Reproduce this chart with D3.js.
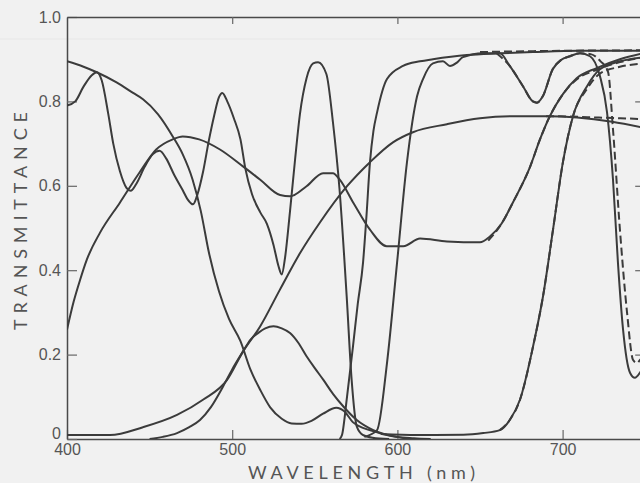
<!DOCTYPE html>
<html><head><meta charset="utf-8">
<script src="https://cdn.jsdelivr.net/npm/d3@7"></script>
<style>html,body{margin:0;padding:0;background:#f1f1f1;} svg{display:block;}</style>
</head><body>
<script>
// ---- data (wavelength nm, transmittance) ----
const wavelengthTicks = [400, 500, 600, 700];
const transmittanceTicks = [0, 0.2, 0.4, 0.6, 0.8, 1.0];
const transmittanceLabels = ["0", "0.2", "0.4", "0.6", "0.8", "1.0"];
const xTitle = "WAVELENGTH (nm)";
const yTitle = "TRANSMITTANCE";

const curveA = [[400,0.895],[410,0.882],[418,0.869],[430,0.845],[440,0.82],[446,0.805],[455,0.77],[464,0.717],[470,0.675],[476,0.615],[481,0.54],[486,0.44],[492,0.35],[498,0.285],[505,0.232],[511,0.165],[517,0.116],[523,0.075],[530,0.048],[536,0.037],[542,0.036],[548,0.043],[555,0.06],[563,0.074],[568,0.065],[573,0.04],[580,0.025],[586,0.018],[593,0.01],[600,0.005],[610,0.002],[620,0]];
const curveB = [[400,0.79],[405,0.80],[410,0.835],[415,0.862],[418,0.869],[421,0.85],[425,0.77],[428,0.70],[432,0.635],[436,0.595],[438.5,0.588],[442,0.605],[447,0.645],[452,0.675],[456,0.683],[460,0.665],[465,0.625],[470,0.59],[473,0.568],[476.3,0.556],[479,0.58],[482.3,0.632],[486,0.71],[489,0.765],[492,0.81],[494,0.82],[497,0.80],[501,0.76],[505,0.71],[508,0.64],[512,0.58],[517,0.537],[521,0.51],[525,0.46],[528,0.41],[530,0.39],[532,0.43],[535,0.54],[538,0.66],[541,0.77],[545,0.855],[549,0.89],[552,0.893],[557,0.865],[561,0.75],[565,0.59],[569.3,0.338],[572.3,0.14],[575.4,0.03],[579,0.01],[585,0.003],[595,0]];
const curveC = [[565,0],[566.5,0.01],[569.5,0.10],[573.1,0.219],[576,0.32],[579.2,0.418],[581.3,0.53],[583.4,0.656],[585.5,0.73],[587.7,0.774],[593.7,0.853],[603.4,0.884],[613.7,0.895],[621.5,0.90],[642,0.91],[662,0.914],[682,0.917],[710,0.92],[750,0.92]];
const curveD = [[580,0.005],[587.7,0.021],[593.7,0.18],[599.8,0.418],[605.8,0.656],[611.9,0.812],[615.5,0.853],[621.5,0.89],[627.6,0.895],[631.8,0.884],[636,0.892],[639.7,0.905],[651.8,0.914],[662,0.914],[668,0.884],[676,0.836],[682,0.80],[684.5,0.797],[688,0.812],[694,0.876],[699,0.898],[704.5,0.907],[710.5,0.914],[716.6,0.907],[722.6,0.86],[726.9,0.774],[730.5,0.615],[733.5,0.418],[736.6,0.259],[740.8,0.157],[743.8,0.145],[746.8,0.157],[750,0.18]];
const curveE = [[450,0],[458,0.005],[466.6,0.014],[474,0.028],[480.5,0.045],[487,0.075],[494.4,0.124],[500,0.165],[506.5,0.207],[511,0.235],[516,0.252],[520,0.262],[525,0.267],[530,0.262],[535,0.251],[540,0.228],[545,0.196],[550,0.168],[555.2,0.14],[561,0.107],[567.3,0.077],[575.4,0.045],[585.4,0.021],[599.6,0.005],[610,0],[620,0]];
const curveF = [[400,0.0095],[426,0.0095],[446,0.028],[466.6,0.057],[482.3,0.093],[496.9,0.14],[506.5,0.207],[516.8,0.266],[528.9,0.354],[541,0.44],[553.1,0.513],[569.5,0.599],[583.4,0.656],[597.3,0.703],[609.4,0.727],[630,0.746],[650,0.76],[670,0.765],[690.6,0.765],[708.7,0.762],[730,0.752],[750,0.737]];
const curveG = [[400,0.259],[404,0.325],[408,0.378],[412,0.425],[420,0.489],[432,0.56],[444,0.632],[454,0.686],[464,0.71],[470,0.717],[480,0.71],[492.6,0.686],[506.5,0.646],[516.8,0.615],[529,0.578],[535,0.575],[545,0.599],[555,0.63],[561,0.63],[565,0.615],[573.3,0.56],[583.4,0.496],[593.5,0.457],[603.6,0.457],[613.7,0.475],[630,0.468],[650,0.466],[656,0.48],[663,0.51],[670,0.561],[680.3,0.645],[686.3,0.71],[692.4,0.766],[700.3,0.818],[708.5,0.855],[720.6,0.879],[734.7,0.90],[750,0.915]];
const curveI = [[590,0.012],[612,0.0095],[640,0.01],[652,0.014],[662,0.021],[668,0.045],[674.2,0.093],[682.1,0.219],[688.1,0.337],[694.2,0.496],[700.2,0.656],[706.3,0.765],[714.8,0.836],[722.6,0.876],[734.7,0.895],[750,0.905]];

const dashC = [[650,0.917],[700,0.92],[750,0.921]];
const dashD = [[660,0.914],[668,0.884],[676,0.836],[682,0.80],[684.5,0.797],[688,0.812],[694,0.876],[699,0.898],[704.5,0.907],[710.5,0.914],[717,0.912],[723,0.895],[727.5,0.87],[730.5,0.734],[734.7,0.496],[739,0.30],[742.6,0.188],[745,0.18],[747,0.188],[750,0.2]];
const dashF = [[690,0.765],[705,0.764],[720,0.762],[735,0.76],[750,0.758]];
const dashG = [[655,0.47],[663,0.51],[670,0.561],[680.3,0.645],[686.3,0.71],[692.4,0.766],[700.3,0.818],[708.5,0.852],[720.6,0.875],[734.7,0.893],[750,0.905]];
const dashI = [[662,0.021],[668,0.045],[674.2,0.093],[682.1,0.219],[688.1,0.337],[694.2,0.496],[700.2,0.656],[706.3,0.765],[714.8,0.83],[722.6,0.866],[734.7,0.882],[750,0.89]];

const solidSeries = [curveA, curveB, curveC, curveD, curveE, curveF, curveG, curveI];
const dashedSeries = [dashC, dashD, dashF, dashG, dashI];

// ---- drawing ----
const W = 640, H = 483;
const ink = "#3b3b3b", textInk = "#555";
const x = d3.scaleLinear().domain([400, 750]).range([67, 645.2]);
const y = d3.scaleLinear().domain([0, 1]).range([439, 17]);

const svg = d3.select("body").append("svg").attr("width", W).attr("height", H)
  .style("background", "#f1f1f1")
  .style("font-family", "Lato, 'DejaVu Sans', sans-serif");

svg.append("defs").append("clipPath").attr("id", "plot")
  .append("rect").attr("x", x(400)).attr("y", y(1)).attr("width", x(750) - x(400)).attr("height", y(0) - y(1));

// faint scan line
svg.append("line").attr("x1", 0).attr("x2", W).attr("y1", 39).attr("y2", 39)
  .attr("stroke", "#e7e7e7").attr("stroke-width", 1);

function styleAxis(g) {
  g.select(".domain").attr("stroke", "#4a4a4a").attr("stroke-width", 1.5);
  g.selectAll(".tick line").attr("stroke", "#666").attr("stroke-width", 1.2);
  g.selectAll(".tick text").attr("fill", textInk).style("font-size", "16px");
}

svg.append("g").attr("transform", `translate(0,${y(0)})`)
  .call(d3.axisBottom(x).tickValues(wavelengthTicks).tickSizeInner(-9).tickSizeOuter(0).tickPadding(5))
  .call(styleAxis);
const leftAxis = svg.append("g").attr("transform", `translate(${x(400)},0)`)
  .call(d3.axisLeft(y).tickValues(transmittanceTicks).tickFormat((d, i) => transmittanceLabels[i]).tickSizeInner(-10).tickSizeOuter(0).tickPadding(6))
  .call(styleAxis);
leftAxis.selectAll(".tick text").filter(d => d === 0).attr("dy", "-0.05em");
svg.append("g").attr("transform", `translate(0,${y(1)})`)
  .call(d3.axisTop(x).tickValues(wavelengthTicks.slice(1)).tickSizeInner(-7).tickSizeOuter(0).tickFormat(""))
  .call(styleAxis);
svg.append("g").attr("transform", `translate(${x(750)},0)`)
  .call(d3.axisRight(y).tickValues(transmittanceTicks.slice(1, 5)).tickSizeInner(-10).tickSizeOuter(0).tickFormat(""))
  .call(styleAxis);

const line = d3.line().x(d => x(d[0])).y(d => y(d[1])).curve(d3.curveMonotoneX);
const plot = svg.append("g").attr("clip-path", "url(#plot)");
plot.selectAll("path.solid").data(solidSeries).join("path").attr("class", "solid")
  .attr("d", line).attr("fill", "none").attr("stroke", ink).attr("stroke-width", 2);
plot.selectAll("path.dash").data(dashedSeries).join("path").attr("class", "dash")
  .attr("d", line).attr("fill", "none").attr("stroke", ink).attr("stroke-width", 2)
  .attr("stroke-dasharray", "8,4");

svg.append("text").attr("x", 248).attr("y", 479).text(xTitle)
  .attr("fill", textInk).style("font-size", "18px")
  .attr("textLength", 227).attr("lengthAdjust", "spacing");
svg.append("text").attr("transform", "translate(27,330) rotate(-90)").text(yTitle)
  .attr("fill", textInk).style("font-size", "18px")
  .attr("textLength", 218).attr("lengthAdjust", "spacing");
</script>
</body></html>
